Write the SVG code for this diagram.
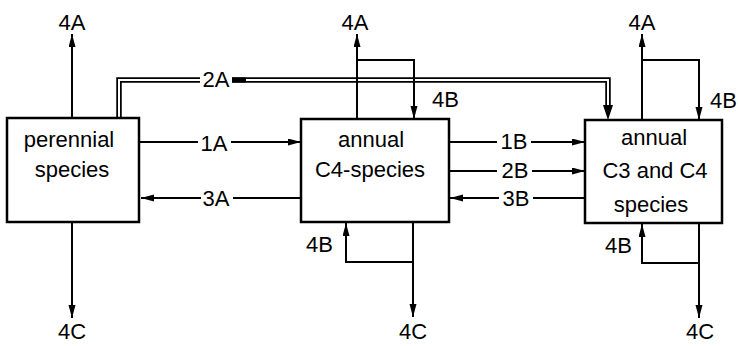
<svg xmlns="http://www.w3.org/2000/svg" width="738" height="346" viewBox="0 0 738 346">
<style>
  .box { fill: #fff; stroke: #000; stroke-width: 2.5; }
  .ln { fill: none; stroke: #000; stroke-width: 2; }
  .dbl-o { fill: none; stroke: #000; stroke-width: 5.5; }
  .dbl-i { fill: none; stroke: #fff; stroke-width: 2; }
  text { font-family: "Liberation Sans", Arial, sans-serif; font-size: 22px; fill: #000; }
  .c { text-anchor: middle; }
</style>
<defs>
  <marker id="ah" markerUnits="userSpaceOnUse" markerWidth="14" markerHeight="8" refX="13" refY="3.5" orient="auto">
    <path d="M0,0 L13,3.5 L0,7 z" fill="#000"/>
  </marker>
</defs>

<g id="connectors">
  <!-- 2A double line -->
  <path class="dbl-o" d="M119,118 V80 H200 M232,80 H608 V107"/>
  <path class="dbl-i" d="M119,119 V80 H200 M246,80 H608 V108"/>
  <rect x="232" y="77.5" width="14" height="5" fill="#000"/>
  <polygon points="603,105 613,105 608,120" fill="#000"/>

  <!-- box1 -->
  <path class="ln" d="M72,118 V34" marker-end="url(#ah)"/>
  <path class="ln" d="M72,222 V318" marker-end="url(#ah)"/>
  <path class="ln" d="M140,142 H198"/>
  <path class="ln" d="M231,142 H301" marker-end="url(#ah)"/>
  <path class="ln" d="M301,198 H233"/>
  <path class="ln" d="M201,198 H141" marker-end="url(#ah)"/>

  <!-- box2 -->
  <path class="ln" d="M357,119 V34" marker-end="url(#ah)"/>
  <path class="ln" d="M357,60 H414 V119" marker-end="url(#ah)"/>
  <path class="ln" d="M413,222 V317" marker-end="url(#ah)"/>
  <path class="ln" d="M413,262 H346 V223" marker-end="url(#ah)"/>
  <path class="ln" d="M449,142 H497"/>
  <path class="ln" d="M531,142 H585" marker-end="url(#ah)"/>
  <path class="ln" d="M449,171 H497"/>
  <path class="ln" d="M532,171 H585" marker-end="url(#ah)"/>
  <path class="ln" d="M585,198 H533"/>
  <path class="ln" d="M499,198 H450" marker-end="url(#ah)"/>

  <!-- box3 -->
  <path class="ln" d="M642,120 V34" marker-end="url(#ah)"/>
  <path class="ln" d="M642,60 H699 V120" marker-end="url(#ah)"/>
  <path class="ln" d="M699,223 V318" marker-end="url(#ah)"/>
  <path class="ln" d="M699,263 H642 V224" marker-end="url(#ah)"/>
</g>

<g id="labels">
  <text class="c" x="72" y="30">4A</text>
  <text class="c" x="355" y="30">4A</text>
  <text class="c" x="642" y="30">4A</text>
  <text class="c" x="72" y="339">4C</text>
  <text class="c" x="413" y="339">4C</text>
  <text class="c" x="700" y="339">4C</text>
  <text class="c" x="216" y="87">2A</text>
  <text class="c" x="214" y="151">1A</text>
  <text class="c" x="216" y="206">3A</text>
  <text class="c" x="514" y="149">1B</text>
  <text class="c" x="515" y="178">2B</text>
  <text class="c" x="516" y="206">3B</text>
  <text x="432" y="107">4B</text>
  <text x="710" y="108">4B</text>
  <text x="306" y="252">4B</text>
  <text x="605" y="253">4B</text>
</g>

<g id="perennial">
  <rect class="box" x="7" y="118" width="132" height="104"/>
  <text class="c" x="69" y="147">perennial</text>
  <text class="c" x="72" y="177">species</text>
</g>

<g id="annual-c4">
  <rect class="box" x="301" y="119" width="148" height="103"/>
  <text class="c" x="371" y="147">annual</text>
  <text class="c" x="370" y="177">C4-species</text>
</g>

<g id="annual-c3c4">
  <rect class="box" x="585" y="120" width="137" height="103"/>
  <text class="c" x="654" y="145">annual</text>
  <text class="c" x="655" y="178">C3 and C4</text>
  <text class="c" x="651" y="212">species</text>
</g>
</svg>
